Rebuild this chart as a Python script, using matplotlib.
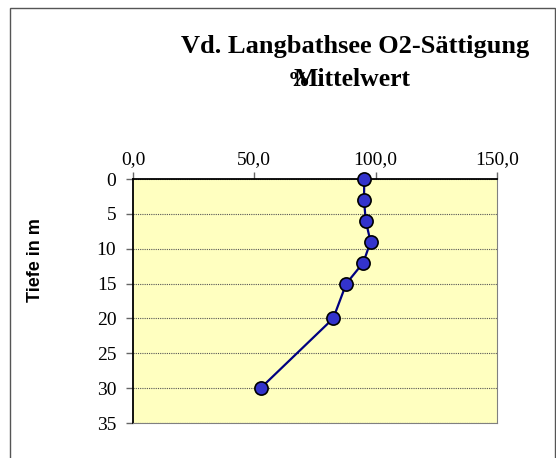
import matplotlib.pyplot as plt
from matplotlib.patches import Rectangle
from matplotlib.ticker import FuncFormatter

# O2 saturation (%) by depth (m)
depth = [0, 3, 6, 9, 12, 15, 20, 30]
saturation = [95.3, 95.2, 95.9, 97.9, 94.9, 87.9, 82.5, 52.6]

x_ticks = [0, 50, 100, 150]
y_ticks = [0, 5, 10, 15, 20, 25, 30, 35]

W, H = 556, 458
fig = plt.figure(figsize=(W / 100, H / 100), dpi=100)

# outer chart frame
fig.patches.append(Rectangle((10 / W, -0.01), 545 / W, 1 - 8 / H + 0.01,
                             transform=fig.transFigure, fill=False,
                             edgecolor='#555555', linewidth=1.0))

ax = fig.add_axes([133 / W, 1 - 423 / H, (497 - 133) / W, (423 - 179) / H])
ax.set_facecolor('#FFFFC0')

ax.plot(saturation, depth, color='#000080', linewidth=1.6, marker='o',
        markersize=9.5, markerfacecolor='#3333CC', markeredgecolor='black',
        markeredgewidth=1.2, zorder=3, clip_on=False)

ax.set_xlim(0, 150)
ax.set_ylim(35, 0)
ax.set_xticks(x_ticks)
ax.set_yticks(y_ticks)
ax.xaxis.set_major_formatter(FuncFormatter(lambda v, p: f'{v:.1f}'.replace('.', ',')))
ax.xaxis.tick_top()
ax.tick_params(axis='both', direction='out', length=5, width=1, color='#666666',
               labelsize=14, pad=3)
ax.tick_params(axis='y', pad=7)
for lbl in ax.get_xticklabels() + ax.get_yticklabels():
    lbl.set_fontfamily('Liberation Serif')

ax.yaxis.grid(True, color='#555555', linestyle=(0, (1, 1)), linewidth=0.8)
ax.set_axisbelow(True)

ax.spines['top'].set_color('black')
ax.spines['left'].set_color('black')
ax.spines['top'].set_linewidth(1.3)
ax.spines['left'].set_linewidth(1.3)
ax.spines['right'].set_color('#808080')
ax.spines['bottom'].set_color('#808080')

fig.text(35 / W, 1 - 260 / H, 'Tiefe in m', rotation=90, ha='center', va='center',
         fontfamily='Liberation Sans', fontweight='bold', fontsize=13)

fig.text(355 / W, 1 - 53 / H, 'Vd. Langbathsee O2-Sättigung', ha='center',
         va='baseline', fontfamily='Liberation Serif', fontweight='bold', fontsize=19)
fig.text(352 / W, 1 - 86 / H, 'Mittelwert', ha='center', va='baseline',
         fontfamily='Liberation Serif', fontweight='bold', fontsize=18.5)
# unit sign sits on top of the "M"
fig.text(299 / W, 1 - 86 / H, '%', ha='center', va='baseline',
         fontfamily='Liberation Serif', fontweight='bold', fontsize=16)

fig.savefig('out.png', dpi=100)
